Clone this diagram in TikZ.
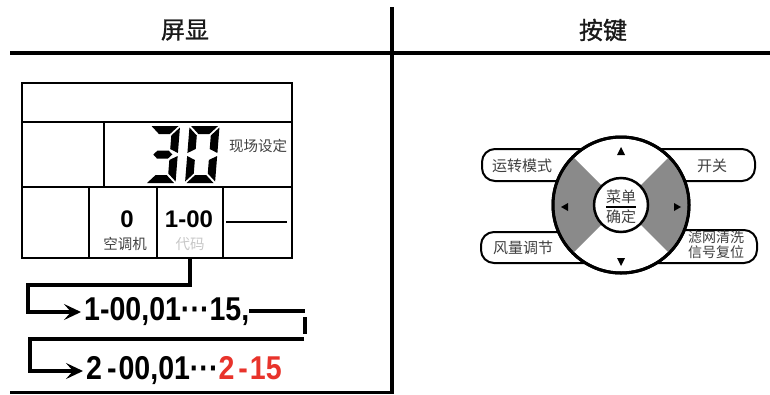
\documentclass[tikz,border=0pt]{standalone}
\usepackage{fontspec}
\setmainfont{Liberation Sans}
\newfontfamily\cjk{Noto Sans CJK SC}
\newfontfamily\cjkm[FakeBold=1.2]{Noto Sans CJK SC}
\newfontfamily\cond[FakeStretch=0.865]{Liberation Sans}
\usetikzlibrary{arrows.meta}
\definecolor{dred}{HTML}{E8332B}
\definecolor{kgray}{HTML}{8A8A8A}
\begin{document}
\begin{tikzpicture}[x=1pt,y=-1pt,
  rule/.style={line width=3.5pt},
  cell/.style={line width=1.8pt},
  conn/.style={line width=3.5pt},
  tip/.style={-{Stealth[length=17pt,width=16pt,inset=7pt]}},
  hdr/.style={font=\cjkm\fontsize{24}{24}\selectfont, text=black!90, inner sep=0pt},
  seq/.style={font=\cond\bfseries\fontsize{33}{33}\selectfont, inner sep=0pt, anchor=west},
  btn/.style={line width=2pt, rounded corners=13pt, fill=white},
  btext/.style={font=\cjk\fontsize{15}{15}\selectfont, text=black!75, inner sep=0pt},
  small/.style={font=\cjk\fontsize{14.5}{14.5}\selectfont, text=black!75, inner sep=0pt},
  val/.style={font=\bfseries\fontsize{24}{24}\selectfont, inner sep=0pt}]
\useasboundingbox (0,0) rectangle (770,394);

% header rules
\draw[rule, line width=4pt] (10,52.5) -- (770,52.5);
\draw[rule] (392,7) -- (392,394);
\draw[rule, line width=3pt] (10,392.5) -- (392,392.5);
\node[hdr] (h1) at (185,30) {屏显};
\node[hdr] (h2) at (603,30) {按键};

% LCD
\draw[cell, line width=2.2pt] (22,83) rectangle (292,258);
\draw[cell] (22,122) -- (292,122);
\draw[cell] (22,187) -- (292,187);
\draw[cell] (104,122) -- (104,187);
\draw[cell] (89,187) -- (89,258);
\draw[cell] (157,187) -- (157,258);
\draw[cell] (223,187) -- (223,258);
\draw[line width=1.2pt] (226,222) -- (287,222);

% seven-segment "3"
\begin{scope}[shift={(145.5,183)}, x=1pt, y=1pt, xslant=0.08]
  \fill (1.5,57) -- (28.5,57) -- (20.5,49) -- (9.5,49) -- cycle;
  \fill (1.5,0) -- (28.5,0) -- (20.5,8) -- (9.5,8) -- cycle;
  \fill (30,55.5) -- (30,30) -- (22,34) -- (22,47.5) -- cycle;
  \fill (30,1.5) -- (30,27) -- (22,23) -- (22,9.5) -- cycle;
  \fill (5.5,28.5) -- (9.5,32.5) -- (20.5,32.5) -- (24.5,28.5) -- (20.5,24.5) -- (9.5,24.5) -- cycle;
\end{scope}
% seven-segment "0"
\begin{scope}[shift={(185,183)}, x=1pt, y=1pt, xslant=0.08]
  \fill (1.5,57) -- (28.5,57) -- (20.5,49) -- (9.5,49) -- cycle;
  \fill (1.5,0) -- (28.5,0) -- (20.5,8) -- (9.5,8) -- cycle;
  \fill (30,55.5) -- (30,30) -- (22,34) -- (22,47.5) -- cycle;
  \fill (30,1.5) -- (30,27) -- (22,23) -- (22,9.5) -- cycle;
  \fill (0,55.5) -- (0,30) -- (8,34) -- (8,47.5) -- cycle;
  \fill (0,1.5) -- (0,27) -- (8,23) -- (8,9.5) -- cycle;
\end{scope}
\node[small] (xc) at (258,146) {现场设定};
\node[val] (v0) at (127,219) {0};
\node[val] (v1) at (189,219) {1-00};
\node[small] (l0) at (125,244) {空调机};
\node[small, text=black!22] (l1) at (190,244) {代码};

% sequences
\node[seq] (s1) at (84,312) {1-00,01···15,};
\node[seq] (s2) at (86,371) {2\hspace{5pt}-\hspace{2pt}00,01···\textcolor{dred}{2\hspace{4pt}-\hspace{2pt}15}};
\coordinate (c0) at (190,257);
\coordinate (c1) at (28,285);
\draw[conn, tip] (c0) |- (c1) -- (c1 |- s1.west) -- ([xshift=-3pt]s1.west);
\coordinate (r1) at (305,311);
\draw[conn] (s1.east |- r1) -- (r1);
\coordinate (r2) at (305,317);
\coordinate (r3) at (305,334);
\draw[conn, line width=4pt] (r2) -- (r3);
\coordinate (r4) at (304,339);
\coordinate (l4) at (30,339);
\draw[conn, tip] (r4) -- (l4) -- (l4 |- s2.west) -- ([xshift=-3pt]s2.west);

% dial
\coordinate (dc) at (621,205);
\draw[btn] (482,149) rectangle (605,181);
\draw[btn] (640,149) rectangle (755,181);
\draw[btn] (481,232) rectangle (605,263);
\draw[btn] (640,230) rectangle (757,263);
\draw[line width=3pt, fill=white] (dc) circle[radius=68pt];
\fill[kgray] ([shift={(135:66.5pt)}]dc) arc[start angle=135, end angle=225, radius=66.5pt]
  -- ([shift={(225:27pt)}]dc) arc[start angle=225, end angle=135, radius=27pt] -- cycle;
\fill[kgray] ([shift={(-45:66.5pt)}]dc) arc[start angle=-45, end angle=45, radius=66.5pt]
  -- ([shift={(45:27pt)}]dc) arc[start angle=45, end angle=-45, radius=27pt] -- cycle;
\draw[line width=3pt] (dc) circle[radius=68pt];
\draw[line width=2.5pt, fill=white] (dc) circle[radius=27pt];
\fill (621,147) -- (617,155) -- (625,155) -- cycle;
\fill (621,266) -- (617,258) -- (625,258) -- cycle;
\fill (561,207) -- (568,203) -- (568,211) -- cycle;
\fill (681,207) -- (674,203) -- (674,211) -- cycle;
\node[btext] (m1) at (621,197) {菜单};
\node[btext] (m2) at (621,217) {确定};
\draw[line width=1.2pt] (606,207) -- (636,207);
\node[btext] (t1) at (522,166) {运转模式};
\node[btext] (t2) at (712,166) {开关};
\node[btext] (t3) at (523,248) {风量调节};
\node[btext, font=\cjk\fontsize{14}{15}\selectfont, align=center] (t4) at (716,245) {滤网清洗\\信号复位};
\end{tikzpicture}
\end{document}
